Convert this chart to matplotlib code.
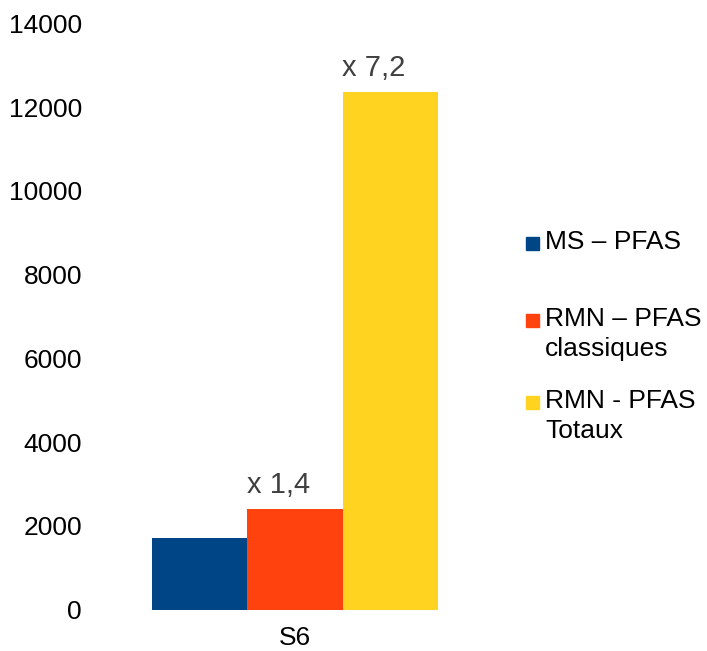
import matplotlib.pyplot as plt
from matplotlib.patches import Rectangle

plt.rcParams['font.family'] = ['Liberation Sans', 'DejaVu Sans']

sample = "S6"
series = ["MS – PFAS", "RMN – PFAS\nclassiques", "RMN - PFAS\nTotaux"]
values = [1710, 2400, 12360]
ratios = [None, "x 1,4", "x 7,2"]
colors = ["#004586", "#ff420e", "#ffd320"]

fig = plt.figure(figsize=(7.07, 6.51), dpi=100)
ax = fig.add_axes([100 / 707, 41.5 / 651, 390 / 707, 586 / 651])

pos = [-1, 0, 1]
bars = ax.bar(pos, values, width=1.0, color=colors)
for b, r in zip(bars, ratios):
    if r:
        ax.annotate(r, (b.get_x() + b.get_width() / 2, b.get_height()),
                    xytext=(-11.5, 11.5), textcoords='offset points',
                    ha='center', va='baseline', fontsize=21, color='#404040')

ax.set_xlim(-2.05, 2.05)
ax.set_ylim(0, 14000)
ax.set_yticks(range(0, 14001, 2000))
ax.set_xticks([0])
ax.set_xticklabels([sample])
ax.tick_params(length=0, labelsize=19, pad=13)
ax.tick_params(axis='x', pad=12)
for s in ax.spines.values():
    s.set_visible(False)

# legend drawn by hand so the swatch sits on the first text line
rows = [243, 320, 402]
for name, c, y in zip(series, colors, rows):
    fig.add_artist(Rectangle((526 / 707, 1 - (y + 6.5) / 651), 13 / 707, 13 / 651,
                             transform=fig.transFigure, color=c))
    fig.text(545 / 707, 1 - (y - 13) / 651, name, fontsize=19, va='top',
             ha='left', linespacing=1.3)

fig.savefig("out.png", dpi=100)
